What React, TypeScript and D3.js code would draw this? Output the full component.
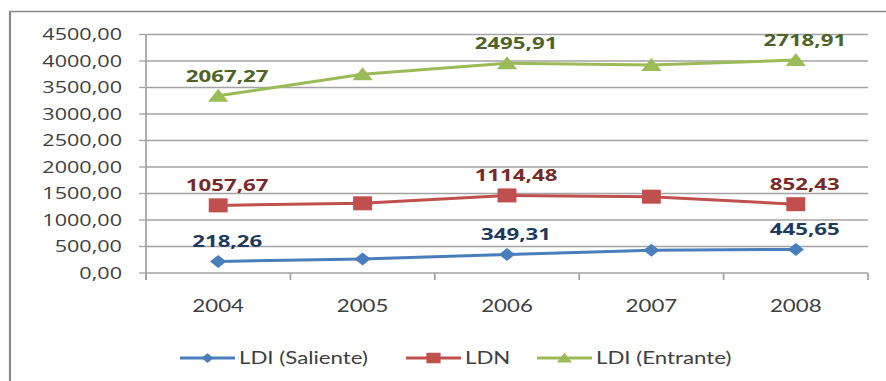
import React from "react";
import * as d3 from "d3";

// values (stacked line chart: each series sits on top of the previous)
const years = ["2004", "2005", "2006", "2007", "2008"];
const saliente = [218.26, 265, 349.31, 430, 445.65];
const ldn = [1057.67, 1050, 1114.48, 1010, 852.43];
const entrante = [2067.27, 2435, 2495.91, 2485, 2718.91];
const labelledYears = ["2004", "2006", "2008"];
const yTicks = [0, 500, 1000, 1500, 2000, 2500, 3000, 3500, 4000, 4500];

const seriesKeys = ["saliente", "ldn", "entrante"];
const seriesNames = ["LDI (Saliente)", "LDN", "LDI (Entrante)"];
const lineColors = ["#4a7ebb", "#c0504d", "#9bbb59"];
const labelColors = ["#1f3a5f", "#772b29", "#4f6228"];
const markerTypes = ["diamond", "square", "triangle"];

// the original picture is stretched horizontally, so draw in narrower units and scale x
const SX = 1.35;
const W = 886;
const H = 381;
const px = (v: number) => v / SX;

const fmt = (v: number) => v.toFixed(2).replace(".", ",");

const marker = (type: string, color: string) => {
  if (type === "diamond") return <path d="M0,-6.5L6,0L0,6.5L-6,0Z" fill={color} />;
  if (type === "square") return <rect x={-7} y={-7} width={14} height={14} fill={color} />;
  return <path d="M0,-7L7.5,6L-7.5,6Z" fill={color} />;
};

export default function App() {
  const rows = years.map((yr, i) => ({
    year: yr,
    saliente: saliente[i],
    ldn: ldn[i],
    entrante: entrante[i],
  }));
  const stacked = d3.stack<any>().keys(seriesKeys)(rows);

  const x = d3.scaleBand().domain(years).range([px(146), px(868)]);
  const y = d3.scaleLinear().domain([0, 4500]).range([273, 34.5]);
  const cx = (yr: string) => (x(yr) as number) + x.bandwidth() / 2;

  const line = d3
    .line<any>()
    .x((d) => cx(d.data.year))
    .y((d) => y(d[1]));

  const boundaries = [...years.map((yr) => x(yr) as number), x.range()[1]];
  const legendX = [px(180), px(406), px(537)];

  return (
    <svg
      width={W}
      height={H}
      style={{ position: "absolute", left: 0, top: 0, background: "#fff" }}
    >
      <g transform={`scale(${SX},1)`}>
        {/* outer frame */}
        <path
          d={`M${px(10)},${H}V11.5H${px(W + 5)}`}
          fill="none"
          stroke="#8a8a8a"
          strokeWidth={1.6}
        />

        {/* gridlines */}
        {yTicks.map((t) => (
          <line
            key={t}
            x1={x.range()[0]}
            x2={x.range()[1]}
            y1={y(t)}
            y2={y(t)}
            stroke="#a3a3a3"
            strokeWidth={1.3}
          />
        ))}
        {/* y axis */}
        <line x1={x.range()[0]} x2={x.range()[0]} y1={y(4500)} y2={y(0) + 7} stroke="#a3a3a3" strokeWidth={1.3} />
        {yTicks.map((t) => (
          <g key={"yt" + t}>
            <line x1={px(139)} x2={x.range()[0]} y1={y(t)} y2={y(t)} stroke="#a3a3a3" strokeWidth={1.3} />
            <text
              x={px(122)}
              y={y(t)}
              dy="0.36em"
              textAnchor="end"
              fontFamily="'Open Sans', sans-serif"
              fontSize={16}
              fill="#404040"
            >
              {fmt(t)}
            </text>
          </g>
        ))}
        {/* x axis ticks and labels */}
        {boundaries.map((b, i) => (
          <line key={"xt" + i} x1={b} x2={b} y1={y(0)} y2={y(0) + 7} stroke="#a3a3a3" strokeWidth={1.3} />
        ))}
        {years.map((yr) => (
          <text
            key={"xl" + yr}
            x={cx(yr)}
            y={312}
            textAnchor="middle"
            fontFamily="Lato, sans-serif"
            fontSize={16.5}
            fill="#404040"
          >
            {yr}
          </text>
        ))}

        {/* series */}
        {stacked.map((s, si) => (
          <g key={s.key}>
            <path d={line(s) as string} fill="none" stroke={lineColors[si]} strokeWidth={3} />
            {s.map((d: any) => (
              <g key={d.data.year} transform={`translate(${cx(d.data.year)},${y(d[1])})`}>
                {marker(markerTypes[si], lineColors[si])}
              </g>
            ))}
            {s
              .filter((d: any) => labelledYears.includes(d.data.year))
              .map((d: any) => (
                <text
                  key={"lb" + d.data.year}
                  x={cx(d.data.year) + px(9)}
                  y={y(d[1]) - 14}
                  textAnchor="middle"
                  fontFamily="'Open Sans', sans-serif"
                  fontWeight="bold"
                  fontSize={16.5}
                  fill={labelColors[si]}
                >
                  {fmt(d.data[s.key])}
                </text>
              ))}
          </g>
        ))}

        {/* legend */}
        {seriesNames.map((name, i) => (
          <g key={name} transform={`translate(${legendX[i]},358)`}>
            <line x1={0} x2={px(55)} y1={0} y2={0} stroke={lineColors[i]} strokeWidth={3} />
            <g transform={`translate(${px(27.5)},0) scale(0.75)`}>{marker(markerTypes[i], lineColors[i])}</g>
            <text
              x={px(59)}
              y={6}
              fontFamily="Lato, sans-serif"
              fontSize={16.5}
              fill="#404040"
            >
              {name}
            </text>
          </g>
        ))}
      </g>
    </svg>
  );
}
